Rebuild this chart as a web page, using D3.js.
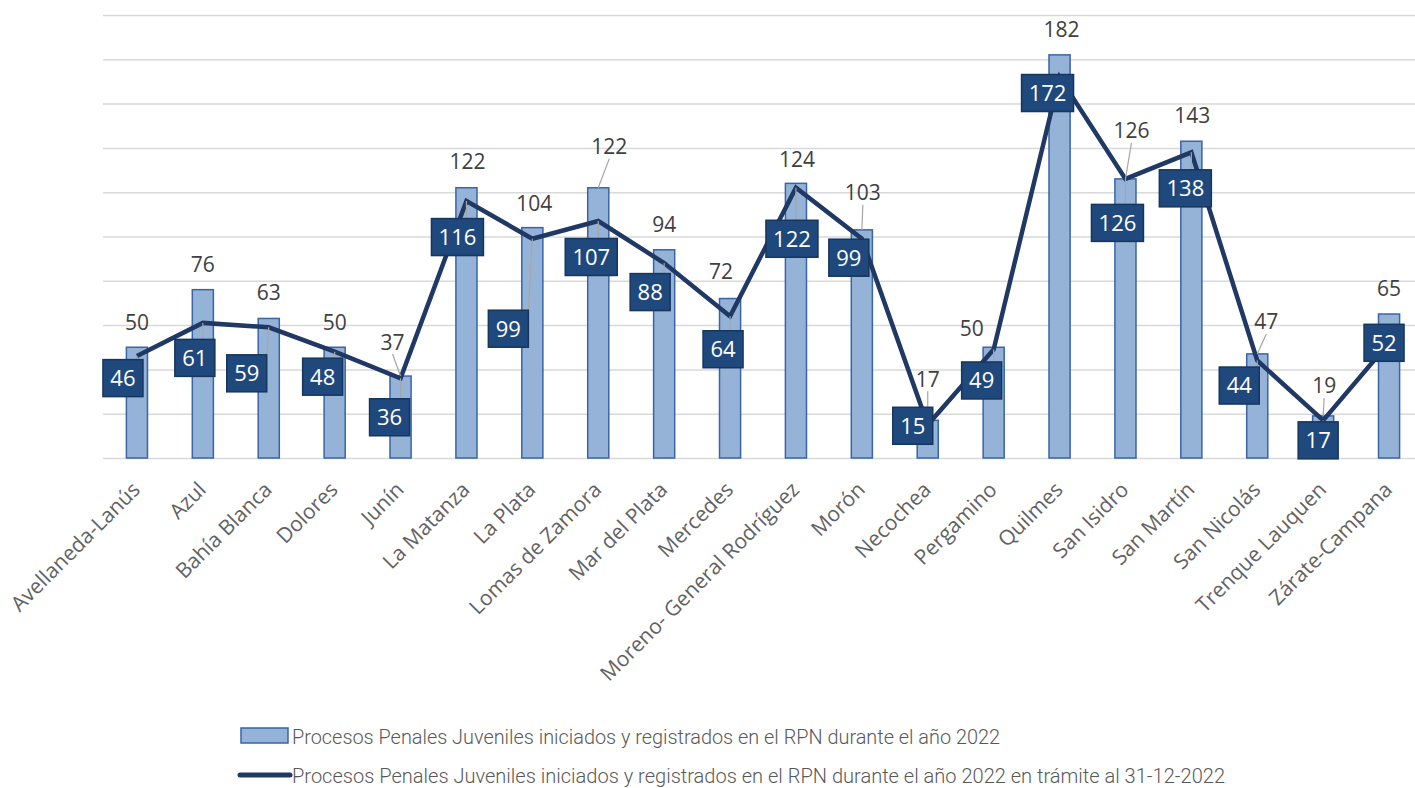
<!DOCTYPE html>
<html>
<head>
<meta charset="utf-8">
<script src="https://cdn.jsdelivr.net/npm/d3@7"></script>
<style>
  html, body { margin: 0; padding: 0; background: #ffffff; }
  svg { display: block; }
</style>
</head>
<body>
<svg id="chart" width="1415" height="788"></svg>
<script>
// ---------- data ----------
const categories = [
  "Avellaneda-Lanús", "Azul", "Bahía Blanca", "Dolores", "Junín", "La Matanza",
  "La Plata", "Lomas de Zamora", "Mar del Plata", "Mercedes",
  "Moreno- General Rodríguez", "Morón", "Necochea", "Pergamino", "Quilmes",
  "San Isidro", "San Martín", "San Nicolás", "Trenque Lauquen", "Zárate-Campana"
];
const barValues  = [50, 76, 63, 50, 37, 122, 104, 122, 94, 72, 124, 103, 17, 50, 182, 126, 143, 47, 19, 65];
const lineValues = [46, 61, 59, 48, 36, 116, 99, 107, 88, 64, 122, 99, 15, 49, 172, 126, 138, 44, 17, 52];
const yTicks = [0, 20, 40, 60, 80, 100, 120, 140, 160, 180, 200];
const seriesNames = [
  "Procesos Penales Juveniles iniciados y registrados en el RPN durante el año 2022",
  "Procesos Penales Juveniles iniciados y registrados en el RPN durante el año 2022 en trámite al 31-12-2022"
];

// ---------- label layout (offsets from each mark, in px) ----------
const barLabelOffsets = [
  [0,-25],[0,-25],[0,-26],[0,-25],[-8,-34],[1,-26],[2,-24],[11,-41],[0,-25],[-9,-27],
  [1,-24],[1,-37],[0,-41],[-22,-19],[2,-25],[6,-48],[1,-26],[9,-32],[1,-30],[0,-26]
];
const lineLabelOffsets = [
  [-14,22],[-8,35],[-22,46],[-12,25],[-11,39],[-9,36],[-24,90],[-7,36],[-14,29],[-7,33],
  [-4,51],[-13,19],[-15,1],[-12,31],[-12,16],[-8,44],[-6,36],[-18,25],[-5,20],[-5,0]
];

// ---------- chart ----------
const svg = d3.select("#chart");
const W = 1415;
const plot = { left: 104, right: 1422, top: 15, bottom: 458 };

const x = d3.scalePoint().domain(categories).range([plot.left, plot.right]).padding(0.5);
const step = x.step();
const barW = step * 0.32;
const y = d3.scaleLinear().domain([0, 200]).range([plot.bottom, plot.top]);

// gridlines
const grid = svg.append("g")
  .attr("transform", `translate(${plot.left - 1},0)`)
  .call(d3.axisLeft(y).tickValues(yTicks).tickSize(-(W - plot.left + 1)).tickFormat(""));
grid.select(".domain").remove();
grid.selectAll(".tick line").attr("stroke", "#d9d9d9").attr("stroke-width", 1.5);

// bars
svg.append("g").selectAll("rect")
  .data(categories)
  .join("rect")
  .attr("x", (d) => x(d) - barW / 2)
  .attr("y", (d, i) => y(barValues[i]))
  .attr("width", barW)
  .attr("height", (d, i) => y(0) - y(barValues[i]))
  .attr("fill", "#95b3d7")
  .attr("stroke", "#3a64a8")
  .attr("stroke-width", 1.5);

// line
const lineGen = d3.line().x((d) => x(d[0])).y((d) => y(d[1]));
svg.append("path")
  .datum(categories.map((c, i) => [c, lineValues[i]]))
  .attr("d", lineGen)
  .attr("fill", "none")
  .attr("stroke", "#1f3864")
  .attr("stroke-width", 4.5)
  .attr("stroke-linejoin", "miter");

// x-axis labels
const xAxis = svg.append("g")
  .attr("transform", `translate(0,${plot.bottom})`)
  .call(d3.axisBottom(x).tickSize(0).tickFormat((d) => d));
xAxis.select(".domain").remove();
xAxis.selectAll(".tick text")
  .attr("font-family", "'Open Sans', 'Noto Sans', sans-serif")
  .attr("font-size", 21)
  .attr("fill", "#626262")
  .attr("text-anchor", "end")
  .attr("x", 0).attr("y", 0).attr("dy", 0)
  .attr("transform", "translate(4,33) rotate(-45)");

// bar value labels + leaders
const leaders = svg.append("g");
const barLabels = svg.append("g");
categories.forEach((c, i) => {
  const ax = x(c), ay = y(barValues[i]);
  const [dx, dy] = barLabelOffsets[i];
  const lx = ax + dx, ly = ay + dy;
  if (dy < -29) {
    leaders.append("line")
      .attr("x1", lx).attr("y1", ly + 12)
      .attr("x2", ax).attr("y2", ay)
      .attr("stroke", "#a6a6a6").attr("stroke-width", 1.2);
  }
  barLabels.append("text")
    .attr("x", lx).attr("y", ly)
    .attr("dy", "0.36em")
    .attr("text-anchor", "middle")
    .attr("font-family", "'Open Sans', 'Noto Sans', sans-serif")
    .attr("font-size", 21)
    .attr("fill", "#404040")
    .text(barValues[i]);
});

// line value labels (boxes) + leaders
const boxes = svg.append("g");
categories.forEach((c, i) => {
  const ax = x(c), ay = y(lineValues[i]);
  const [dx, dy] = lineLabelOffsets[i];
  const cx = ax + dx, cy = ay + dy;
  const txt = String(lineValues[i]);
  const bw = txt.length >= 3 ? 52 : 40, bh = 37;
  const insideX = Math.abs(ax - cx) <= bw / 2, insideY = Math.abs(ay - cy) <= bh / 2;
  if (!(insideX && insideY)) {
    const ex = Math.max(cx - bw / 2, Math.min(ax, cx + bw / 2));
    const ey = Math.max(cy - bh / 2, Math.min(ay, cy + bh / 2));
    leaders.append("line")
      .attr("x1", ax).attr("y1", ay)
      .attr("x2", ex).attr("y2", ey)
      .attr("stroke", "#a6a6a6").attr("stroke-width", 1.2);
  }
  boxes.append("rect")
    .attr("x", cx - bw / 2).attr("y", cy - bh / 2)
    .attr("width", bw).attr("height", bh)
    .attr("fill", "#1f497d")
    .attr("stroke", "#17365d").attr("stroke-width", 1.5);
  boxes.append("text")
    .attr("x", cx).attr("y", cy)
    .attr("dy", "0.36em")
    .attr("text-anchor", "middle")
    .attr("font-family", "'Open Sans', 'Noto Sans', sans-serif")
    .attr("font-size", 22)
    .attr("fill", "#ffffff")
    .text(txt);
});

// legend
const legend = svg.append("g").attr("font-family", "'Roboto', sans-serif");
legend.append("rect")
  .attr("x", 241).attr("y", 728).attr("width", 47).attr("height", 15)
  .attr("fill", "#95b3d7").attr("stroke", "#3a64a8").attr("stroke-width", 1.5);
legend.append("text")
  .attr("x", 292).attr("y", 736).attr("dy", "0.36em")
  .attr("font-size", 21).attr("font-weight", 300).attr("fill", "#595959")
  .attr("textLength", 708).attr("lengthAdjust", "spacingAndGlyphs")
  .text(seriesNames[0]);
legend.append("line")
  .attr("x1", 240).attr("x2", 290).attr("y1", 775).attr("y2", 775)
  .attr("stroke", "#1f3864").attr("stroke-width", 5).attr("stroke-linecap", "round");
legend.append("text")
  .attr("x", 292).attr("y", 775).attr("dy", "0.36em")
  .attr("font-size", 21).attr("font-weight", 300).attr("fill", "#595959")
  .attr("textLength", 933).attr("lengthAdjust", "spacingAndGlyphs")
  .text(seriesNames[1]);
</script>
</body>
</html>
